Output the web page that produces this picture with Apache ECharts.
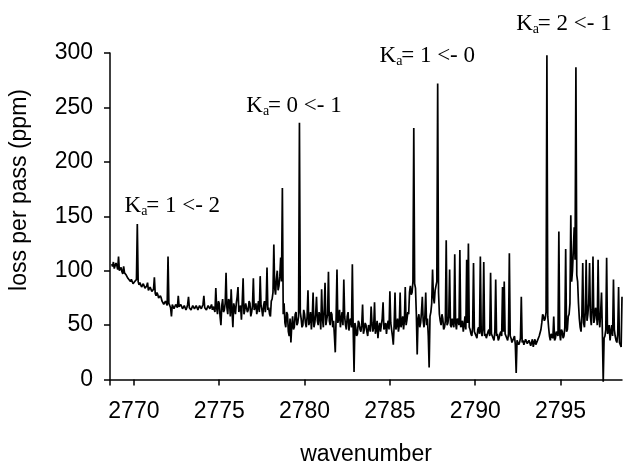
<!DOCTYPE html>
<html><head><meta charset="utf-8">
<script src="https://cdn.jsdelivr.net/npm/echarts@6/dist/echarts.min.js"></script>
<style>html,body{margin:0;padding:0;background:#fff}#c{width:623px;height:464px}</style>
</head><body><div id="c"></div>
<script>
// sampling grid of the spectrum (cm^-1)
const waveStart = 2768.7;
const waveStep = 0.05;
// loss per pass (ppm), one value per 0.05 cm^-1
const loss = [
106,104,108,102,103,107,105,101,113,100,101,103,99,97,104,98,97,96,95,93,
92,94,90,92,91,88,88,90,89,92,143,90,87,89,88,85,86,88,87,84,
84,86,89,82,83,85,85,81,80,83,94,79,77,80,78,75,74,77,75,72,
72,69,70,72,71,68,113,70,68,66,58,69,68,65,66,69,69,66,77,67,
66,69,68,65,65,68,67,64,66,69,76,66,67,64,65,68,68,65,66,68,
67,64,65,68,68,65,66,69,77,66,67,64,65,68,68,65,66,69,64,67,
68,62,84,66,60,72,70,58,50,68,74,62,64,70,98,66,60,74,72,58,
83,64,48,70,66,60,70,76,85,62,62,68,55,72,93,60,64,70,70,62,
64,72,70,58,62,68,93,64,66,70,60,66,72,62,95,68,64,58,68,72,
62,70,103,64,66,60,58,72,74,80,124,84,78,92,100,82,86,95,112,90,
176,60,70,52,48,62,60,44,40,56,34,50,58,46,48,60,62,50,52,58,
236,62,56,48,50,64,60,52,48,58,82,50,54,62,46,56,80,48,52,60,
76,54,50,62,58,46,83,56,48,64,89,50,55,60,99,54,50,62,60,48,
54,40,25,58,101,52,56,64,48,56,62,50,92,58,50,46,58,62,45,54,
56,48,106,46,7,52,48,40,42,54,52,46,44,50,69,42,46,52,50,44,
40,50,48,44,67,52,44,48,71,42,46,54,38,48,52,44,44,56,71,46,
48,52,42,50,54,46,81,52,46,40,32,50,80,46,50,56,44,50,80,48,
52,58,46,54,85,50,55,62,60,80,86,78,80,90,231,88,84,60,23,56,
60,48,52,62,76,54,48,58,80,50,56,40,11,58,62,70,101,76,70,82,
86,90,272,80,60,54,50,60,56,46,48,54,128,50,52,58,101,50,48,56,
56,48,115,52,46,56,54,50,119,48,50,54,44,50,58,46,110,52,125,48,
46,42,40,48,107,44,44,40,38,46,48,42,113,44,40,46,108,40,42,38,
38,44,46,40,98,42,40,38,36,44,92,40,42,36,38,42,44,40,85,44,
90,42,40,38,36,42,116,40,38,34,34,38,40,32,6,36,36,32,34,38,
76,34,36,32,33,37,38,33,32,36,36,31,34,37,30,34,37,32,33,36,
36,40,40,46,52,60,58,54,56,62,298,58,48,40,36,42,40,38,58,36,
38,44,42,40,136,42,36,46,44,38,40,48,120,44,46,58,60,70,151,90,
100,120,140,110,287,96,90,70,56,48,44,60,107,52,48,62,110,54,60,70,
107,58,50,64,113,52,56,66,62,50,110,56,48,62,80,44,-2,38,40,46,
112,42,44,50,36,44,50,40,92,46,40,36,34,42,85,34,32,30,76
];
const xTicks = [2770, 2775, 2780, 2785, 2790, 2795];
const yTicks = [0, 50, 100, 150, 200, 250, 300];
// band annotations: K_a transitions
const bandLabels = ['1 <- 2', '0 <- 1', '1 <- 0', '2 <- 1'];
const bandAnchorWave = [2769.455, 2776.585, 2784.394, 2792.40];
const bandAnchorLoss = [148, 240, 286, 300];
const bandLabelShift = [0, 0, 0, -17];

const data = loss.map((v, i) => [+(waveStart + i * waveStep).toFixed(2), v]);

const sans = '"Liberation Sans", Arial, Helvetica, sans-serif';
const serif = '"Liberation Serif", "Times New Roman", serif';

const chart = echarts.init(document.getElementById('c'), null, {renderer: 'canvas'});
chart.setOption({
  animation: false,
  backgroundColor: '#fff',
  grid: {left: 110, right: 1, top: 53, bottom: 79, containLabel: false, outerBoundsMode: 'none'},
  xAxis: {
    type: 'value', min: 2768.6, max: 2798.6,
    axisLine: {show: true, lineStyle: {color: '#000', width: 1.5}},
    axisTick: {show: true, customValues: xTicks, length: 6, lineStyle: {color: '#000', width: 1.5}},
    axisLabel: {customValues: xTicks, formatter: v => String(v), color: '#000', fontSize: 23, fontFamily: sans, margin: 15},
    splitLine: {show: false},
    name: 'wavenumber', nameLocation: 'middle', nameGap: 58,
    nameTextStyle: {color: '#000', fontSize: 23, fontFamily: sans}
  },
  yAxis: {
    type: 'value', min: -5, max: 300,
    axisLine: {show: true, lineStyle: {color: '#000', width: 1.5}},
    axisTick: {show: true, customValues: yTicks, length: 6, lineStyle: {color: '#000', width: 1.5}},
    axisLabel: {customValues: yTicks, formatter: v => String(v), color: '#000', fontSize: 23, fontFamily: sans, margin: 17},
    splitLine: {show: false}
  },
  graphic: [{
    type: 'text', x: 20, y: 190, rotation: Math.PI / 2,
    style: {text: 'loss per pass (ppm)', fill: '#000', font: '23px ' + sans, align: 'center', verticalAlign: 'middle'}
  }],
  series: [{
    type: 'line', data: data, symbol: 'none', showSymbol: false, clip: false,
    lineStyle: {color: '#000', width: 1.7},
    markPoint: {
      symbol: 'circle', symbolSize: 0,
      label: {
        show: true, position: [0, 0], align: 'left', verticalAlign: 'bottom',
        formatter: p => '{k|K}{s|a}{t|= ' + p.name + '}',
        rich: {
          k: {fontFamily: serif, fontSize: 23, color: '#000', lineHeight: 24, verticalAlign: 'top'},
          s: {fontFamily: serif, fontSize: 14, color: '#000', lineHeight: 10, verticalAlign: 'bottom', width: 5},
          t: {fontFamily: serif, fontSize: 23, color: '#000', lineHeight: 24, verticalAlign: 'top'}
        }
      },
      data: bandLabels.map((t, i) => ({
        name: t, coord: [bandAnchorWave[i], bandAnchorLoss[i]],
        label: {offset: [0, bandLabelShift[i]]}
      }))
    }
  }]
});
</script></body></html>
